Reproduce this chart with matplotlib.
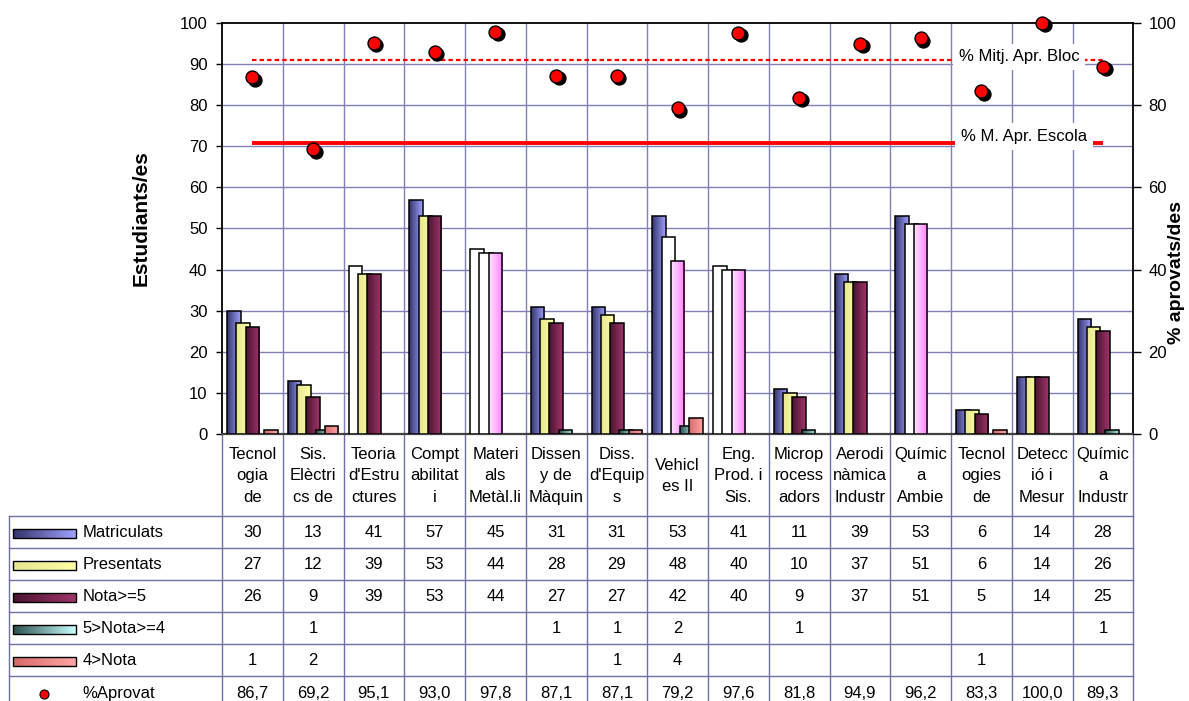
import numpy as np
import matplotlib
matplotlib.use("Agg")
import matplotlib.pyplot as plt
import matplotlib.transforms as mtransforms
from matplotlib.colors import LinearSegmentedColormap
from matplotlib.patches import Rectangle

plt.rcParams['font.family'] = ['Liberation Sans', 'DejaVu Sans']

# ---------------- data ----------------
categories = ["Tecnol\nogia\nde", "Sis.\nElèctri\ncs de", "Teoria\nd'Estru\nctures",
              "Compt\nabilitat\ni", "Materi\nals\nMetàl.li", "Dissen\ny de\nMàquin",
              "Diss.\nd'Equip\ns", "Vehicl\nes II", "Eng.\nProd. i\nSis.",
              "Microp\nrocess\nadors", "Aerodi\nnàmica\nIndustr", "Químic\na\nAmbie",
              "Tecnol\nogies\nde", "Detecc\nió i\nMesur", "Químic\na\nIndustr"]
matriculats = [30, 13, 41, 57, 45, 31, 31, 53, 41, 11, 39, 53, 6, 14, 28]
presentats = [27, 12, 39, 53, 44, 28, 29, 48, 40, 10, 37, 51, 6, 14, 26]
nota_ge5 = [26, 9, 39, 53, 44, 27, 27, 42, 40, 9, 37, 51, 5, 14, 25]
nota_4_5 = [None, 1, None, None, None, 1, 1, 2, None, 1, None, None, None, None, 1]
nota_lt4 = [1, 2, None, None, None, None, 1, 4, None, None, None, None, 1, None, None]
pct_aprovat = [86.7, 69.2, 95.1, 93.0, 97.8, 87.1, 87.1, 79.2, 97.6, 81.8, 94.9, 96.2, 83.3, 100.0, 89.3]
series_names = ["Matriculats", "Presentats", "Nota>=5", "5>Nota>=4", "4>Nota"]
pct_name = "%Aprovat"
avg_bloc = 90.9
avg_escola = 70.7
label_bloc = "% Mitj. Apr. Bloc"
label_escola = "% M. Apr. Escola"
left_ylabel = "Estudiants/es"
right_ylabel = "% aprovats/des"

series = [matriculats, presentats, nota_ge5, nota_4_5, nota_lt4]

# ---------------- styles ----------------
gradients = {
    'blue': ('#34346C', '#A0A0FF'),
    'yellow': ('#E6E690', '#FFFFA6'),
    'maroon': ('#4A1430', '#A0356A'),
    'teal': ('#2C5050', '#B0E4E4'),
    'salmon': ('#D86A6A', '#FFA4A4'),
    'white': ('#FFFFFF', '#FFFFFF'),
    'pink': ('#FFE4FF', '#FF80FF'),
}
series_style = ['blue', 'yellow', 'maroon', 'teal', 'salmon']
overrides = {(2, 0): 'white', (4, 0): 'white', (4, 1): 'white', (4, 2): 'pink',
             (7, 1): 'white', (7, 2): 'pink', (8, 0): 'white', (8, 1): 'white',
             (8, 2): 'pink', (11, 1): 'white', (11, 2): 'pink'}
key_style = {'teal': ('#2C5050', '#C8FFFF')}
grid_c = '#8080B6'
table_c = '#7070A8'

W, H, DPI = 1189, 701, 100
fig = plt.figure(figsize=(W / DPI, H / DPI), dpi=DPI)
L, R, T, B = 222, 1133.3, 22.7, 434.3
ax = fig.add_axes([L / W, 1 - B / H, (R - L) / W, (B - T) / H])
ax.set_zorder(2)

n = len(categories)
xs = np.arange(n)
step, bw = 0.152, 0.222
offsets = (np.arange(len(series)) - 2) * step


def cmap_of(name, table=gradients):
    c1, c2 = table[name]
    return LinearSegmentedColormap.from_list(name, [c1, c2])


grad_img = np.linspace(0, 1, 64).reshape(1, -1)

for s, vals in enumerate(series):
    v = np.array([np.nan if q is None else q for q in vals], dtype=float)
    bars = ax.bar(xs + offsets[s], v, width=bw, facecolor='none', edgecolor='black',
                  linewidth=1.1, zorder=3 + s * 0.1)
    for i, p in enumerate(bars.patches):
        if np.isnan(v[i]):
            continue
        style = overrides.get((i, s), series_style[s])
        x0, y0 = p.get_x(), p.get_y()
        im = ax.imshow(grad_img, extent=[x0, x0 + p.get_width(), y0, y0 + p.get_height()],
                       cmap=cmap_of(style), aspect='auto', zorder=3 + s * 0.1 - 0.01,
                       interpolation='bilinear')
        im.set_clip_path(p)

# grid
for yv in range(10, 100, 10):
    ax.axhline(yv, color=grid_c, lw=1.0, zorder=1)
for b in xs[:-1] + 0.5:
    ax.axvline(b, color=grid_c, lw=1.0, zorder=1)

# average lines
ax.hlines(avg_bloc, xs[0], xs[-1], colors='red', lw=1.6, linestyles=(0, (2, 1.4)), zorder=4)
ax.hlines(avg_escola, xs[0], xs[-1], colors='red', lw=2.8, zorder=4)
box = dict(facecolor='white', edgecolor='none', boxstyle='square,pad=0.35')
ax.text(11.63, avg_bloc + 0.8, label_bloc, ha='left', va='center', fontsize=12, bbox=box, zorder=5)
ax.text(11.66, avg_escola + 1.6, label_escola, ha='left', va='center', fontsize=12, bbox=box, zorder=5)

# percentage points with shadow
shadow = mtransforms.offset_copy(ax.transData, fig=fig, x=2.6, y=-2.6, units='dots')
ax.plot(xs, pct_aprovat, 'o', ms=9.3, mfc='black', mec='black', mew=1, transform=shadow, zorder=6,
        clip_on=False)
ax.plot(xs, pct_aprovat, 'o', ms=9.3, mfc='#FF0000', mec='black', mew=1, zorder=7, clip_on=False)

ax.set_xlim(-0.5, n - 0.5)
ax.set_ylim(0, 100)
ax.set_xticks([])
ax.set_yticks(range(0, 101, 10))
ax.tick_params(axis='y', direction='out', length=4.5, width=1, pad=6, labelsize=12)
for sp in ['top', 'left', 'right']:
    ax.spines[sp].set_color('black')
    ax.spines[sp].set_linewidth(1.3)
ax.spines['bottom'].set_color('#404040')
ax.spines['bottom'].set_linewidth(1.6)
ax.set_ylabel(left_ylabel, fontsize=15, fontweight='bold')
ax.yaxis.set_label_coords((151 - L) / (R - L), 1 - (218 - T) / (B - T))

ax2 = ax.twinx()
ax2.set_zorder(3)
ax2.set_ylim(0, 100)
ax2.set_yticks(range(0, 101, 20))
ax2.tick_params(axis='y', direction='out', length=5.5, width=1, pad=5.5, labelsize=12)
for sp in ax2.spines.values():
    sp.set_visible(False)
ax2.set_ylabel(right_ylabel, fontsize=14, fontweight='bold')
ax2.yaxis.set_label_coords((1168 - L) / (R - L), 1 - (272.5 - T) / (B - T))

# ---------------- data table (pixel-space overlay) ----------------
tb = fig.add_axes([0, 0, 1, 1])
tb.set_zorder(0)
tb.set_xlim(0, W)
tb.set_ylim(H, 0)
tb.set_axis_off()

fig.canvas.draw()
to_px = lambda xd: ax.transData.transform((xd, 0))[0]
col_c = [to_px(x) for x in xs]
col_b = [to_px(x) for x in np.arange(n + 1) - 0.5]
header_h, row_h = 81.2, 32.1
left_x = 9.3
row_tops = [B + header_h + k * row_h for k in range(len(series) + 1)]

for xb in col_b:
    tb.plot([xb, xb], [B, H], color=table_c, lw=1)
tb.plot([left_x, left_x], [row_tops[0], H], color=table_c, lw=1)
for yt in row_tops:
    tb.plot([left_x, col_b[-1]], [yt, yt], color=table_c, lw=1)

for i, lab in enumerate(categories):
    tb.text(col_c[i], B + header_h / 2 + 1, lab, ha='center', va='center', fontsize=12,
            linespacing=1.55)

rows = series + [pct_aprovat]
for r, vals in enumerate(rows):
    yc = row_tops[r] + row_h / 2
    for i, v in enumerate(vals):
        if v is None:
            continue
        txt = f"{v:.1f}".replace('.', ',') if r == len(series) else f"{v:d}"
        tb.text(col_c[i], yc + 1, txt, ha='center', va='center', fontsize=12)
    name = series_names[r] if r < len(series) else pct_name
    tb.text(82.7, yc + 1, name, ha='left', va='center', fontsize=12)
    if r < len(series):
        st = series_style[r]
        tbl = dict(gradients)
        tbl.update(key_style)
        kx0, kx1, kh = 13.3, 76, 9
        im = tb.imshow(grad_img, extent=[kx0, kx1, yc + 2 + kh / 2, yc + 2 - kh / 2],
                       cmap=cmap_of(st, tbl), aspect='auto', interpolation='bilinear')
        tb.add_patch(Rectangle((kx0, yc + 2 - kh / 2), kx1 - kx0, kh, fill=False,
                               edgecolor='black', lw=1))
    else:
        tb.plot([44.3], [yc + 2], 'o', ms=6.5, mfc='#FF0000', mec='black', mew=0.8)
tb.set_xlim(0, W)
tb.set_ylim(H, 0)

fig.savefig("out.png", dpi=DPI)
